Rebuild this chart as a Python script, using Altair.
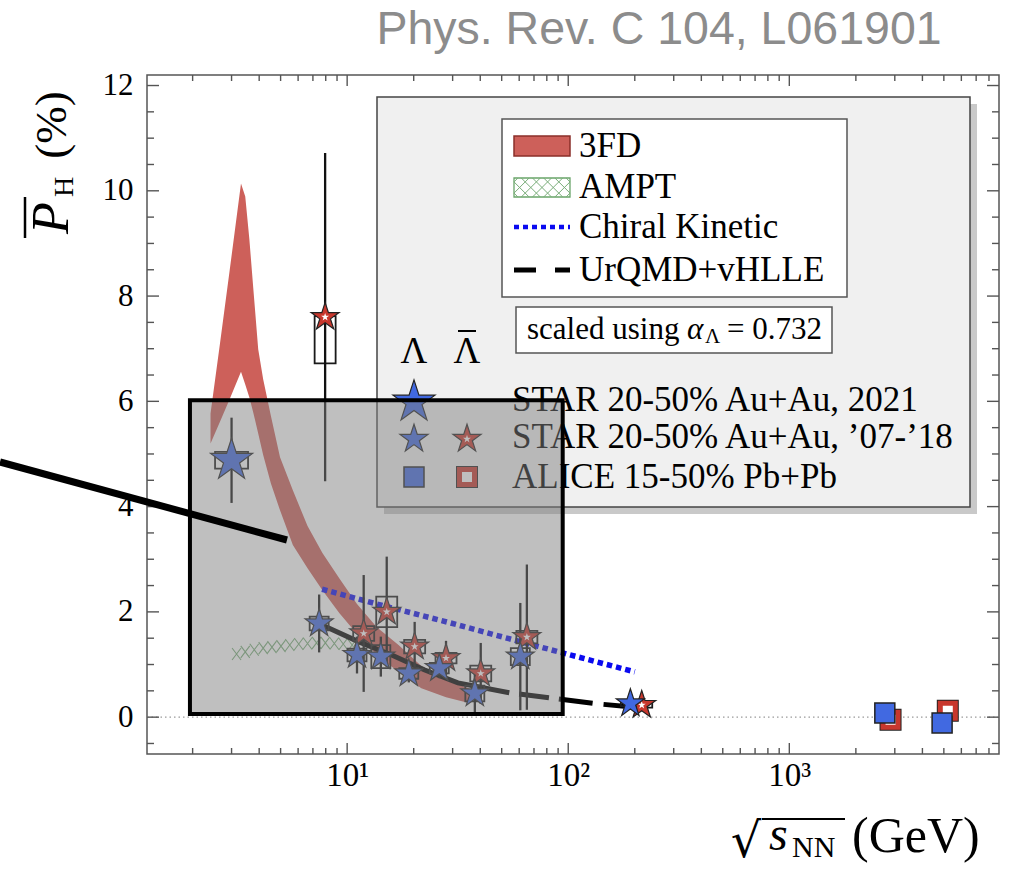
import altair as alt
import pandas as pd

# ---------------- data ----------------
# 3FD band: sqrt(s_NN) [GeV], upper and lower edge of P_H [%]
fd_x = [2.41, 2.65, 2.94, 3.31, 3.46, 3.61, 3.76, 3.96, 4.17, 4.52, 4.97, 5.68,
        6.62, 7.73, 9.21, 11.08, 13.62, 17.08, 21.65, 28.01, 35.49]
fd_hi = [5.77, 7.05, 8.48, 10.14, 9.89, 9.09, 8.16, 6.99, 6.42, 5.72, 4.94, 4.31,
         3.63, 3.12, 2.64, 2.15, 1.71, 1.37, 0.97, 0.71, 0.55]
fd_lo = [5.20, 5.60, 6.04, 6.56, 6.32, 6.08, 5.79, 5.39, 4.98, 4.44, 3.93, 3.27,
         2.83, 2.41, 1.98, 1.58, 1.18, 0.86, 0.55, 0.38, 0.27]

# AMPT (hatched band centre)
ampt_x = [3.16, 3.46, 3.80, 4.17, 4.57, 5.02, 5.50, 6.04, 6.62, 7.27, 7.97, 8.75, 9.60, 10.53]
ampt_y = [1.20, 1.24, 1.28, 1.31, 1.33, 1.35, 1.37, 1.39, 1.40, 1.41, 1.41, 1.40, 1.39, 1.37]

# Chiral Kinetic
ck_x = [7.7, 14.5, 27.0, 62.4, 200.0]
ck_y = [2.43, 2.12, 1.83, 1.42, 0.86]

# UrQMD+vHLLE
uq_x = [7.7, 11.3, 15.9, 22.3, 31.7, 54.7, 85.1, 138.0, 200.0]
uq_y = [1.75, 1.43, 1.18, 0.90, 0.65, 0.46, 0.36, 0.25, 0.19]

# STAR Lambda 20-50% Au+Au '07-'18
lam_x = [7.47, 11.08, 14.2, 19.0, 26.1, 37.8, 60.7, 191.0]
lam_y = [1.78, 1.18, 1.15, 0.83, 0.93, 0.45, 1.15, 0.26]
lam_stat = [0.55, 0.35, 0.38, 0.17, 0.19, 0.38, 1.02, 0.08]
lam_sys = [0.13, 0.12, 0.22, 0.10, 0.10, 0.15, 0.16, 0.05]

# STAR anti-Lambda 20-50% Au+Au '07-'18
alam_x = [7.95, 11.88, 15.1, 20.2, 28.0, 40.2, 65.0, 215.0]
alam_y = [7.60, 1.59, 2.00, 1.34, 1.12, 0.83, 1.52, 0.23]
alam_stat = [3.12, 1.11, 1.05, 0.47, 0.33, 0.58, 1.38, 0.10]
alam_sys_lo = [0.88, 0.14, 0.29, 0.13, 0.10, 0.15, 0.12, 0.05]
alam_sys_hi = [0.02, 0.14, 0.29, 0.13, 0.10, 0.15, 0.12, 0.05]

# STAR 2021 (3 GeV) Lambda
s21_x = [3.0]
s21_y = [4.88]
s21_stat = [0.81]
s21_sys = [0.16]

# ALICE 15-50% Pb+Pb
alice_lam_x = [2704.0, 4910.0]
alice_lam_y = [0.08, -0.11]
alice_alam_x = [2870.0, 5210.0]
alice_alam_y = [-0.05, 0.12]

# highlight box drawn over the figure (data units)
hl_x = [1.945, 94.4]
hl_y = [0.06, 6.02]

# axis ticks
x_major = [10, 100, 1000]
x_tick_labels = ["10\u00b9", "10\u00b2", "10\u00b3"]
x_minor = [2, 3, 4, 5, 6, 7, 8, 9, 20, 30, 40, 50, 60, 70, 80, 90,
           200, 300, 400, 500, 600, 700, 800, 900, 2000, 3000, 4000, 5000, 6000, 7000, 8000]
y_major = [0, 2, 4, 6, 8, 10, 12]
y_minor = [-0.5, 0.5, 1, 1.5, 2.5, 3, 3.5, 4.5, 5, 5.5, 6.5, 7, 7.5, 8.5, 9, 9.5, 10.5, 11, 11.5]

# ---------------- styling ----------------
W, H = 852, 679
SERIF = "Liberation Serif"
BLUE = "#4169e1"
RED = "#c8372d"
FRAME = "#555555"
STAR = ("M0,-1L0.2245,-0.309L0.951,-0.309L0.3633,0.118L0.5878,0.809L0,0.382"
        "L-0.5878,0.809L-0.3633,0.118L-0.951,-0.309L-0.2245,-0.309Z")
XMARK = "M-0.75,-1L0.75,1M0.75,-1L-0.75,1"


def hatch_path(a, s):
    segs = []
    for sign in (1, -1):
        for k in range(-30, 31):
            c = k * s
            if sign == 1:
                lo, hi = -a - c, a - c
            else:
                lo, hi = c - a, c + a
            x0, x1 = max(-1.0, lo), min(1.0, hi)
            if x1 - x0 > 1e-6:
                segs.append(f"M{x0:.3f},{sign * x0 + c:.3f}L{x1:.3f},{sign * x1 + c:.3f}")
    return "".join(segs)


HATCH = hatch_path(19 / 56, 0.4)

xs = alt.Scale(type="log", domain=[1.31, 8430], nice=False)
ys = alt.Scale(domain=[-0.70, 12.2], nice=False, zero=False)

label_expr = (f"datum.value == {x_major[0]} ? '{x_tick_labels[0]}' : "
              f"(datum.value == {x_major[1]} ? '{x_tick_labels[1]}' : '{x_tick_labels[2]}')")
xaxis = alt.Axis(values=x_major, labelExpr=label_expr, ticks=False, domain=False, grid=False,
                 labelFont=SERIF, labelFontSize=33, labelColor="black", labelPadding=5,
                 labelFlush=False, labelOverlap=False, title=None)
yaxis = alt.Axis(values=y_major, ticks=False, domain=False, grid=False,
                 labelFont=SERIF, labelFontSize=31, labelColor="black", labelPadding=14,
                 labelFlush=False, labelOverlap=False, title=None)


def X(f="x"):
    return alt.X(f"{f}:Q", scale=xs, axis=xaxis)


def Y(f="y"):
    return alt.Y(f"{f}:Q", scale=ys, axis=yaxis)


one = pd.DataFrame({"d": [0]})


def prect(x1, y1, x2, y2, **kw):
    return alt.Chart(one).mark_rect(**kw).encode(
        x=alt.value(x1), x2=alt.value(x2), y=alt.value(y1), y2=alt.value(y2))


def prule(x1, y1, x2, y2, **kw):
    return alt.Chart(one).mark_rule(**kw).encode(
        x=alt.value(x1), x2=alt.value(x2), y=alt.value(y1), y2=alt.value(y2))


def ptext(s, x, y, size, align="left", baseline="middle", **kw):
    props = dict(text=s, fontSize=size, font=SERIF, color="black", align=align, baseline=baseline)
    props.update(kw)
    return alt.Chart(one).mark_text(**props).encode(x=alt.value(x), y=alt.value(y))


def ppoint(x, y, **kw):
    return alt.Chart(one).mark_point(**kw).encode(x=alt.value(x), y=alt.value(y))


layers = []

# zero line
layers.append(alt.Chart(pd.DataFrame({"y": [0.0]})).mark_rule(
    color="#9a9a9a", strokeWidth=1.3, strokeDash=[1.5, 3]).encode(y=Y()))

# 3FD band
fd_df = pd.DataFrame({"x": fd_x, "hi": fd_hi, "lo": fd_lo})
layers.append(alt.Chart(fd_df).mark_area(color="#cd605a", opacity=1).encode(
    x=X(), y=Y("hi"), y2=alt.Y2("lo:Q")))

# AMPT hatched band
ampt_df = pd.DataFrame({"x": ampt_x, "y": ampt_y})
layers.append(alt.Chart(ampt_df).mark_point(
    shape=XMARK, size=144, filled=False, stroke="#79ad79", strokeWidth=1.1, opacity=1
).encode(x=X(), y=Y()))

# Chiral kinetic
layers.append(alt.Chart(pd.DataFrame({"x": ck_x, "y": ck_y})).mark_line(
    color="#0a0af0", strokeWidth=5.5, strokeDash=[5.5, 4], strokeCap="butt").encode(x=X(), y=Y()))

# UrQMD+vHLLE
layers.append(alt.Chart(pd.DataFrame({"x": uq_x, "y": uq_y})).mark_line(
    color="black", strokeWidth=5, strokeDash=[200, 10, 30, 10, 34, 11, 60, 200],
    strokeCap="butt").encode(x=X(), y=Y()))

# data frames for points
lam_df = pd.DataFrame({"x": lam_x, "y": lam_y, "stat": lam_stat, "sys": lam_sys})
alam_df = pd.DataFrame({"x": alam_x, "y": alam_y, "stat": alam_stat,
                        "slo": alam_sys_lo, "shi": alam_sys_hi})
s21_df = pd.DataFrame({"x": s21_x, "y": s21_y, "stat": s21_stat, "sys": s21_sys})

box_kw = dict(fillOpacity=0, stroke="#1a1a1a", strokeWidth=1.8)

# systematic boxes
layers.append(alt.Chart(alam_df).transform_calculate(
    bhi="datum.y + datum.shi", blo="datum.y - datum.slo").mark_bar(size=21, **box_kw).encode(
    x=X(), y=Y("bhi"), y2=alt.Y2("blo:Q")))
layers.append(alt.Chart(lam_df).transform_calculate(
    bhi="datum.y + datum.sys", blo="datum.y - datum.sys").mark_bar(size=19, **box_kw).encode(
    x=X(), y=Y("bhi"), y2=alt.Y2("blo:Q")))
layers.append(alt.Chart(s21_df).transform_calculate(
    bhi="datum.y + datum.sys", blo="datum.y - datum.sys").mark_bar(size=33, **box_kw).encode(
    x=X(), y=Y("bhi"), y2=alt.Y2("blo:Q")))

# statistical error bars
for df in (alam_df, lam_df, s21_df):
    layers.append(alt.Chart(df).transform_calculate(
        ehi="datum.y + datum.stat", elo="datum.y - datum.stat").mark_rule(
        color="#111111", strokeWidth=2.3).encode(x=X(), y=Y("ehi"), y2=alt.Y2("elo:Q")))

# stars
star_kw = dict(shape=STAR, filled=True, stroke="#222222", strokeWidth=1.2, opacity=1)
layers.append(alt.Chart(alam_df).mark_point(size=865, fill=RED, **star_kw).encode(x=X(), y=Y()))
layers.append(alt.Chart(alam_df).mark_point(
    shape=STAR, size=70, filled=True, fill="white", strokeWidth=0, opacity=1).encode(x=X(), y=Y()))
layers.append(alt.Chart(lam_df).mark_point(size=865, fill=BLUE, **star_kw).encode(x=X(), y=Y()))
layers.append(alt.Chart(s21_df).mark_point(size=1950, fill=BLUE, **star_kw).encode(x=X(), y=Y()))

# ALICE squares
alice_alam_df = pd.DataFrame({"x": alice_alam_x, "y": alice_alam_y})
alice_lam_df = pd.DataFrame({"x": alice_lam_x, "y": alice_lam_y})
layers.append(alt.Chart(alice_alam_df).mark_point(
    shape="square", size=225, filled=False, stroke="#222222", strokeWidth=7, opacity=1).encode(x=X(), y=Y()))
layers.append(alt.Chart(alice_alam_df).mark_point(
    shape="square", size=225, filled=True, fill="white", stroke=RED, strokeWidth=5, opacity=1).encode(x=X(), y=Y()))
layers.append(alt.Chart(alice_lam_df).mark_point(
    shape="square", size=400, filled=True, fill=BLUE, stroke="#222222", strokeWidth=1.5, opacity=1).encode(x=X(), y=Y()))

# inward ticks on all four sides
tk = dict(color=FRAME, strokeWidth=1.4)
xmaj = pd.DataFrame({"x": x_major})
xmin = pd.DataFrame({"x": x_minor})
ymaj = pd.DataFrame({"y": y_major})
ymin = pd.DataFrame({"y": y_minor})
for df, L in ((xmaj, 11), (xmin, 6)):
    layers.append(alt.Chart(df).mark_rule(**tk).encode(x=X(), y=alt.value(H), y2=alt.value(H - L)))
    layers.append(alt.Chart(df).mark_rule(**tk).encode(x=X(), y=alt.value(0), y2=alt.value(L)))
for df, L in ((ymaj, 12), (ymin, 7)):
    layers.append(alt.Chart(df).mark_rule(**tk).encode(y=Y(), x=alt.value(0), x2=alt.value(L)))
    layers.append(alt.Chart(df).mark_rule(**tk).encode(y=Y(), x=alt.value(W), x2=alt.value(W - L)))

# ---------------- legend (inside the plot) ----------------
layers.append(prect(237, 29, 830, 439, fill="#c9c9c9", strokeWidth=0))
layers.append(prect(230, 22, 823, 432, fill="#f0f0f0", stroke="#444444", strokeWidth=1.5))
layers.append(prect(355, 44, 700, 222, fill="white", stroke="#555555", strokeWidth=1.5))
layers.append(prect(367, 61, 423, 81, fill="#cd605a", stroke="#8a2f2a", strokeWidth=1.5))
layers.append(prect(367, 103, 423, 122, fill="white", stroke="#6aa56a", strokeWidth=1.3))
layers.append(ppoint(395, 112.5, shape=HATCH, size=56 * 56, filled=False, stroke="#79ad79",
                     strokeWidth=1, opacity=1))
layers.append(prule(367, 152, 423, 152, color="#0a0af0", strokeWidth=4.5, strokeDash=[5, 4]))
layers.append(prule(367, 195, 423, 195, color="black", strokeWidth=5, strokeDash=[22, 19, 15, 100]))
LEG = 35
layers.append(ptext("3FD", 432, 71, LEG))
layers.append(ptext("AMPT", 432, 112, LEG))
layers.append(ptext("Chiral Kinetic", 432, 152, LEG))
layers.append(ptext("UrQMD+vHLLE", 432, 195, LEG))

layers.append(prect(369, 232, 685, 278, fill="white", stroke="#555555", strokeWidth=1.5))
layers.append(ptext("scaled using", 380, 255, 31))
layers.append(ptext("\u03b1", 540, 255, 31, fontStyle="italic"))
layers.append(ptext("\u039b", 558, 262, 21))
layers.append(ptext("= 0.732", 580, 255, 31))

layers.append(ptext("\u039b", 267, 277, 37, align="center"))
layers.append(ptext("\u039b", 320, 277, 37, align="center"))
layers.append(prule(311, 256, 329, 256, color="black", strokeWidth=2))

layers.append(ppoint(267, 327, size=1950, fill=BLUE, **star_kw))
layers.append(ppoint(267, 364, size=865, fill=BLUE, **star_kw))
layers.append(ppoint(320, 364, size=865, fill=RED, **star_kw))
layers.append(ppoint(320, 364, shape=STAR, size=70, filled=True, fill="white", strokeWidth=0, opacity=1))
layers.append(ppoint(267, 402, shape="square", size=400, filled=True, fill=BLUE,
                     stroke="#222222", strokeWidth=1.5, opacity=1))
layers.append(ppoint(320, 402, shape="square", size=225, filled=False, stroke="#222222",
                     strokeWidth=7, opacity=1))
layers.append(ppoint(320, 402, shape="square", size=225, filled=True, fill="white",
                     stroke=RED, strokeWidth=5, opacity=1))
layers.append(ptext("STAR 20-50% Au+Au, 2021", 365, 325, LEG))
layers.append(ptext("STAR 20-50% Au+Au, \u201907-\u201918", 365, 362, LEG))
layers.append(ptext("ALICE 15-50% Pb+Pb", 365, 402, LEG))

# ---------------- axis titles & header ----------------
layers.append(ptext("Phys. Rev. C 104, L061901", 512, -31, 46.5, align="center",
                    baseline="alphabetic", font="Liberation Sans", color="#8c8c8c"))
# y title: P-bar_H (%)
layers.append(ptext("P", -95, 143, 52, align="center", angle=270, fontStyle="italic"))
layers.append(ptext("H", -82, 112, 28, align="center", angle=270))
layers.append(ptext("(%)", -95, 50, 45, align="center", angle=270))
layers.append(prule(-122, 122, -122, 163, color="black", strokeWidth=2.5))
# x title: sqrt(s_NN) (GeV)
layers.append(ptext("\u221a", 599, 768, 48, align="center", baseline="middle", font="DejaVu Serif"))
layers.append(prule(615, 744, 698, 744, color="black", strokeWidth=2))
layers.append(ptext("s", 622, 775, 48, baseline="alphabetic", fontStyle="italic"))
layers.append(ptext("NN", 645, 782, 30, baseline="alphabetic"))
layers.append(ptext("(GeV)", 705, 777, 50, baseline="alphabetic"))

# ---------------- highlight overlay ----------------
hl_df = pd.DataFrame({"x": [hl_x[0]], "x2": [hl_x[1]], "y": [hl_y[1]], "y2": [hl_y[0]]})
layers.append(alt.Chart(hl_df).mark_rect(
    fill="#808080", fillOpacity=0.5, stroke="black", strokeWidth=4).encode(
    x=X(), x2=alt.X2("x2:Q"), y=Y(), y2=alt.Y2("y2:Q")))
layers.append(prule(-147, 387, 140, 465, color="black", strokeWidth=7, strokeCap="butt"))

chart = alt.layer(*layers).properties(
    width=W, height=H,
    padding={"left": 147, "top": 75, "right": 26, "bottom": 118},
    autosize=alt.AutoSizeParams(type="none"),
    background="white",
).configure_view(stroke=FRAME, strokeWidth=1.5)

chart.save("out.html", embed_options={"renderer": "svg", "actions": False})
